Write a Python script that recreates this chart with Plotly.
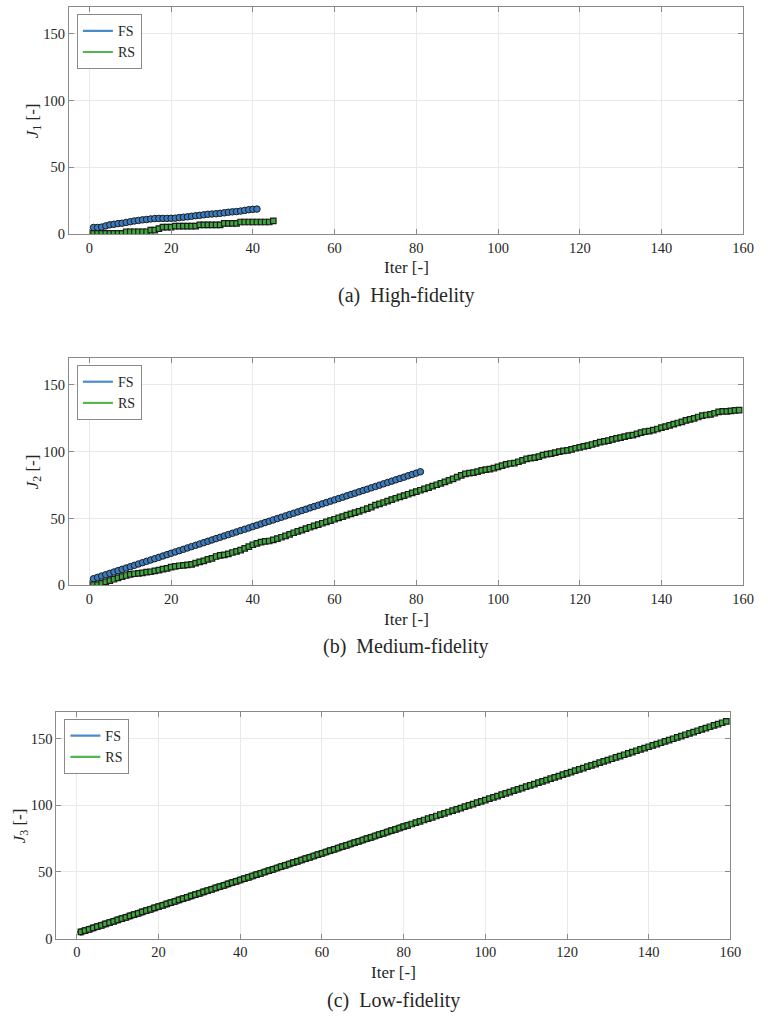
import plotly.graph_objects as go

# ---------------- data ----------------
iter_a_fs = list(range(1, 42))
J1_fs = [5.0, 5.0, 5.3, 6.2, 7.0, 7.4, 7.9, 8.2, 8.8, 9.3,
         9.9, 10.3, 10.7, 11.0, 11.4, 11.7, 11.8, 11.8, 11.8, 11.9,
         12.0, 12.4, 12.7, 13.0, 13.4, 13.8, 14.1, 14.5, 14.9, 15.1,
         15.3, 15.6, 16.0, 16.4, 16.7, 16.9, 17.3, 17.8, 18.3, 18.6,
         18.8]
iter_a_rs = list(range(1, 46))
J1_rs = [0.6, 0.6, 0.6, 0.6, 0.6, 0.6, 0.6, 0.6, 1.8, 1.8,
         1.8, 1.8, 1.8, 1.8, 3.0, 3.0, 4.2, 5.2, 5.2, 5.2,
         6.0, 6.0, 6.0, 6.0, 6.0, 6.0, 7.0, 7.0, 7.0, 7.0,
         7.0, 7.0, 8.1, 8.1, 8.1, 8.1, 9.1, 9.1, 9.1, 9.1,
         9.1, 9.1, 9.1, 9.1, 10.0]

iter_b_fs = list(range(1, 82))
J2_fs = [5, 6, 7, 8, 9, 10, 11, 12, 13, 14,
         15, 16, 17, 18, 19, 20, 21, 22, 23, 24,
         25, 26, 27, 28, 29, 30, 31, 32, 33, 34,
         35, 36, 37, 38, 39, 40, 41, 42, 43, 44,
         45, 46, 47, 48, 49, 50, 51, 52, 53, 54,
         55, 56, 57, 58, 59, 60, 61, 62, 63, 64,
         65, 66, 67, 68, 69, 70, 71, 72, 73, 74,
         75, 76, 77, 78, 79, 80, 81, 82, 83, 84,
         85]
iter_b_rs = list(range(1, 160))
J2_rs = [0.5, 0.5, 1.5, 2.6, 3.6, 4.6, 5.6, 6.6, 7.4, 8.2,
         8.7, 9.0, 9.4, 9.9, 10.2, 10.9, 11.4, 12.1, 12.7, 13.6,
         14.3, 14.7, 15.0, 15.3, 15.7, 16.6, 17.6, 18.4, 19.4, 20.2,
         21.6, 22.4, 22.9, 23.6, 24.6, 25.4, 26.4, 27.7, 29.0, 30.4,
         31.4, 32.4, 32.9, 33.2, 34.0, 35.0, 36.0, 37.0, 38.2, 39.4,
         40.4, 41.4, 42.5, 43.5, 44.5, 45.5, 46.5, 47.5, 48.5, 49.5,
         50.5, 51.5, 52.5, 53.5, 54.4, 55.4, 56.4, 57.4, 58.5, 60.0,
         61.0, 62.0, 63.0, 64.2, 65.2, 66.2, 67.2, 68.2, 69.2, 70.2,
         71.2, 72.2, 73.2, 74.2, 75.3, 76.4, 77.5, 78.6, 79.7, 81.0,
         82.3, 83.4, 84.0, 84.3, 85.1, 86.0, 86.6, 87.0, 87.8, 88.6,
         89.6, 90.6, 91.2, 91.5, 92.5, 93.5, 94.6, 95.2, 95.6, 96.4,
         97.4, 98.2, 98.6, 99.3, 100.1, 100.6, 101.0, 101.7, 102.6, 103.3,
         104.0, 104.6, 105.4, 106.3, 107.2, 107.8, 108.3, 109.2, 110.0, 110.6,
         111.3, 112.0, 112.5, 113.3, 114.3, 115.0, 115.4, 116.1, 117.0, 118.0,
         118.8, 119.7, 120.6, 121.5, 122.4, 123.4, 124.2, 125.0, 126.0, 127.0,
         127.5, 127.9, 128.8, 129.8, 130.2, 130.2, 130.6, 131.0, 131.2]

iter_c_fs = list(range(1, 82))
J3_fs = [5, 6, 7, 8, 9, 10, 11, 12, 13, 14,
         15, 16, 17, 18, 19, 20, 21, 22, 23, 24,
         25, 26, 27, 28, 29, 30, 31, 32, 33, 34,
         35, 36, 37, 38, 39, 40, 41, 42, 43, 44,
         45, 46, 47, 48, 49, 50, 51, 52, 53, 54,
         55, 56, 57, 58, 59, 60, 61, 62, 63, 64,
         65, 66, 67, 68, 69, 70, 71, 72, 73, 74,
         75, 76, 77, 78, 79, 80, 81, 82, 83, 84,
         85]
iter_c_rs = list(range(1, 160))
J3_rs = [5, 6, 7, 8, 9, 10, 11, 12, 13, 14,
         15, 16, 17, 18, 19, 20, 21, 22, 23, 24,
         25, 26, 27, 28, 29, 30, 31, 32, 33, 34,
         35, 36, 37, 38, 39, 40, 41, 42, 43, 44,
         45, 46, 47, 48, 49, 50, 51, 52, 53, 54,
         55, 56, 57, 58, 59, 60, 61, 62, 63, 64,
         65, 66, 67, 68, 69, 70, 71, 72, 73, 74,
         75, 76, 77, 78, 79, 80, 81, 82, 83, 84,
         85, 86, 87, 88, 89, 90, 91, 92, 93, 94,
         95, 96, 97, 98, 99, 100, 101, 102, 103, 104,
         105, 106, 107, 108, 109, 110, 111, 112, 113, 114,
         115, 116, 117, 118, 119, 120, 121, 122, 123, 124,
         125, 126, 127, 128, 129, 130, 131, 132, 133, 134,
         135, 136, 137, 138, 139, 140, 141, 142, 143, 144,
         145, 146, 147, 148, 149, 150, 151, 152, 153, 154,
         155, 156, 157, 158, 159, 160, 161, 162, 163]

x_ticks = [0, 20, 40, 60, 80, 100, 120, 140, 160]
y_ticks = [0, 50, 100, 150]
series_names = ["FS", "RS"]
captions = ["(a)&nbsp; High-fidelity", "(b)&nbsp; Medium-fidelity", "(c)&nbsp; Low-fidelity"]
y_titles = ["<i>J</i><sub>1</sub> [-]", "<i>J</i><sub>2</sub> [-]", "<i>J</i><sub>3</sub> [-]"]

# ---------------- style ----------------
FONT = "Liberation Serif, Times New Roman, serif"
BLUE_LINE = "#4a8bcb"
BLUE_FILL = "#3b7cc0"
GREEN_LINE = "#55b54f"
GREEN_FILL = "#3fa83c"
EDGE = "#1c1c1c"
AXIS = "#8a8a8a"
GRID = "#e9e9e9"
TXT = "#262626"

W, H = 768, 1023
# pixel boxes: (left, right, top, bottom)
boxes = [(70, 754, 7.3, 236), (70, 754, 361, 590), (57.3, 741, 717.7, 946)]

panels = [
    ((iter_a_fs, J1_fs), (iter_a_rs, J1_rs)),
    ((iter_b_fs, J2_fs), (iter_b_rs, J2_rs)),
    ((iter_c_fs, J3_fs), (iter_c_rs, J3_rs)),
]

fig = go.Figure()
layout = {}
annotations = []

for i, ((fx, fy), (rx, ry)) in enumerate(panels):
    n = "" if i == 0 else str(i + 1)
    xa, ya = "x" + n, "y" + n
    leg = "legend" + n
    l, r, t, b = boxes[i]
    fig.add_trace(go.Scatter(
        x=fx, y=fy, mode="lines+markers", xaxis=xa, yaxis=ya, showlegend=False,
        line=dict(color=BLUE_LINE, width=1.2),
        marker=dict(symbol="circle", size=6.5, color=BLUE_FILL, line=dict(color=EDGE, width=1)),
    ))
    fig.add_trace(go.Scatter(
        x=rx, y=ry, mode="lines+markers", xaxis=xa, yaxis=ya, showlegend=False,
        line=dict(color=GREEN_LINE, width=1.2),
        marker=dict(symbol="square", size=5.5, color=GREEN_FILL, line=dict(color=EDGE, width=1.2)),
    ))
    for name, col in zip(series_names, [BLUE_LINE, GREEN_LINE]):
        fig.add_trace(go.Scatter(
            x=[None], y=[None], mode="lines", name=name, xaxis=xa, yaxis=ya,
            legend=leg, line=dict(color=col, width=2.2),
        ))
    common = dict(
        showline=True, linecolor=AXIS, linewidth=1, mirror="ticks",
        ticks="inside", ticklen=5, tickcolor=AXIS, tickwidth=1,
        showgrid=True, gridcolor=GRID, gridwidth=1, zeroline=False,
        tickfont=dict(family=FONT, size=14.5, color=TXT),
    )
    layout["xaxis" + n] = dict(
        domain=[l / W, r / W], anchor=ya, range=[-5, 160],
        tickvals=x_ticks, **common)
    layout["yaxis" + n] = dict(
        domain=[1 - b / H, 1 - t / H], anchor=xa, range=[0, 170],
        tickvals=y_ticks, **common)
    layout[leg] = dict(
        x=(l + 8) / W, y=1 - (t + 7) / H, xanchor="left", yanchor="top",
        bgcolor="white", bordercolor=AXIS, borderwidth=1,
        font=dict(family=FONT, size=14, color=TXT),
        tracegroupgap=0, itemwidth=30,
    )
    cx = (l + r) / 2 / W
    annotations.append(dict(
        x=cx, y=1 - (b + 34) / H, xref="paper", yref="paper",
        xanchor="center", yanchor="middle",
        text="Iter [-]", showarrow=False,
        font=dict(family=FONT, size=17, color=TXT)))
    annotations.append(dict(
        x=cx, y=1 - (b + 62) / H, xref="paper", yref="paper",
        xanchor="center", yanchor="middle",
        text=captions[i], showarrow=False,
        font=dict(family=FONT, size=20, color=TXT)))
    annotations.append(dict(
        x=(l - 36) / W, y=1 - (t + b) / 2 / H, xref="paper", yref="paper",
        xanchor="center", yanchor="middle",
        text=y_titles[i], textangle=-90, showarrow=False,
        font=dict(family=FONT, size=17, color=TXT)))

fig.update_layout(
    width=W, height=H, margin=dict(l=0, r=0, t=0, b=0),
    autosize=False,
    paper_bgcolor="white", plot_bgcolor="white",
    annotations=annotations, **layout,
)

fig.write_html("out.html", config={"responsive": False})
